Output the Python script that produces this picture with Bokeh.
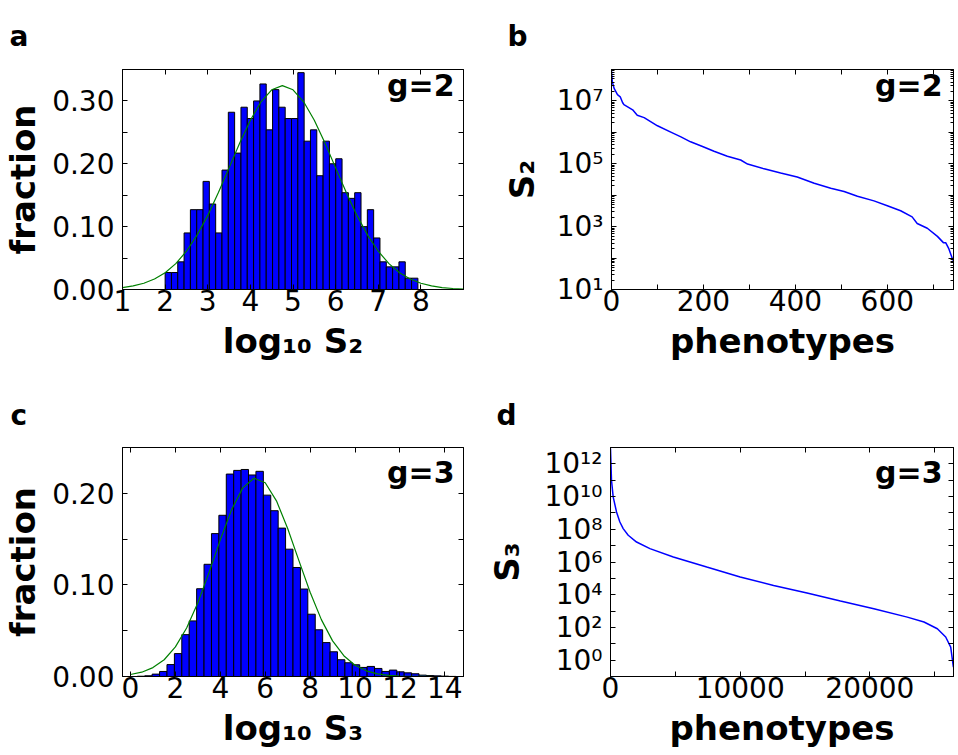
from bokeh.plotting import figure
from bokeh.models import (Range1d, FixedTicker, LinearAxis, LogAxis, Label,
                          CustomJSTickFormatter, NumeralTickFormatter, BasicTickFormatter)
from bokeh.layouts import column, row
from bokeh.embed import file_html
from bokeh.resources import INLINE
import numpy as np

FONT = "DejaVu Sans"

# ---------------- data: panel a (g=2 histogram) ----------------
hist2_range = (2.0, 7.93)
hist2_frac = [0.027, 0.027, 0.044, 0.090, 0.127, 0.127, 0.172, 0.136, 0.090, 0.190,
              0.282, 0.217, 0.290, 0.272, 0.300, 0.327, 0.254, 0.318, 0.290, 0.272,
              0.272, 0.345, 0.236, 0.254, 0.181, 0.236, 0.200, 0.208, 0.154, 0.145,
              0.154, 0.100, 0.127, 0.082, 0.044, 0.036, 0.036, 0.044, 0.018, 0.018]
fit2_x = [1.0, 1.25, 1.5, 1.75, 2.0, 2.25, 2.5, 2.75, 3.0, 3.25, 3.5, 3.75, 4.0,
          4.25, 4.5, 4.75, 5.0, 5.25, 5.5, 5.75, 6.0, 6.25, 6.5, 6.75, 7.0, 7.25,
          7.5, 7.75, 8.0, 8.25, 8.5, 8.75, 9.0]
fit2_y = [0.0031, 0.0057, 0.0099, 0.0166, 0.0266, 0.0411, 0.0609, 0.0865, 0.1179,
          0.1542, 0.1935, 0.2330, 0.2693, 0.2986, 0.3177, 0.3243, 0.3177, 0.2986,
          0.2693, 0.2330, 0.1935, 0.1542, 0.1179, 0.0865, 0.0609, 0.0411, 0.0266,
          0.0166, 0.0099, 0.0057, 0.0031, 0.0016, 0.0008]

# ---------------- data: panel b (g=2 rank plot) ----------------
rank2 = [0, 2, 6, 13, 19, 24, 27, 46, 56, 71, 100, 129, 151, 172, 198, 223, 252,
         281, 296, 332, 368, 404, 441, 477, 506, 535, 571, 600, 629, 654, 665, 687,
         709, 722, 727, 734, 743]
size2 = [8.9e7, 3.9e7, 2.45e7, 1.58e7, 1.35e7, 8.9e6, 7.6e6, 5.2e6, 3.5e6, 2.95e6,
         1.62e6, 1.02e6, 7.2e5, 5.0e5, 3.55e5, 2.5e5, 1.74e5, 1.32e5, 9.8e4, 6.9e4,
         5.1e4, 3.8e4, 2.4e4, 1.66e4, 1.32e4, 9.3e3, 6.6e3, 4.6e3, 3.2e3, 2.05e3,
         1.26e3, 890, 490, 310, 310, 195, 83]

# ---------------- data: panel c (g=3 histogram) ----------------
hist3_range = (-0.356, 14.83)
hist3_frac = [0.0, 0.0, 0.0003, 0.0008, 0.0026, 0.0055, 0.013, 0.025, 0.0457, 0.0607,
              0.0958, 0.1225, 0.156, 0.176, 0.221, 0.225, 0.226, 0.220, 0.224, 0.198,
              0.181, 0.162, 0.139, 0.119, 0.0955, 0.068, 0.051, 0.037, 0.027, 0.0183,
              0.015, 0.0128, 0.0099, 0.011, 0.0088, 0.0055, 0.007, 0.0051, 0.004, 0.003,
              0.0015, 0.001, 0.0007, 0.0004, 0.0001, 0.0]
fit3_x = [0.0, 0.5, 1.0, 1.5, 2.0, 2.5, 3.0, 3.5, 4.0, 4.5, 5.0, 5.5, 6.0, 6.5, 7.0,
          7.5, 8.0, 8.5, 9.0, 9.5, 10.0, 10.5, 11.0, 11.5, 12.0, 12.5, 13.0, 13.5,
          14.0, 14.5]
fit3_y = [0.0022, 0.0047, 0.0097, 0.0183, 0.0323, 0.0529, 0.0805, 0.1137, 0.1492,
          0.1819, 0.2059, 0.2165, 0.2115, 0.1918, 0.1616, 0.1265, 0.0920, 0.0621,
          0.0389, 0.0227, 0.0123, 0.0062, 0.0029, 0.0013, 0.0005, 0.0002, 0.0001,
          0.00002, 0.00001, 0.0]

# ---------------- data: panel d (g=3 rank plot) ----------------
rank3 = [0, 77, 206, 464, 722, 979, 1366, 2010, 3041, 4845, 7422, 10000, 12577,
         15154, 17731, 20308, 22885, 24174, 25205, 25849, 26235, 26441]
size3 = [8.7e12, 1.0e11, 9.5e9, 1.15e9, 2.8e8, 1.1e8, 4.3e7, 1.66e7, 6.6e6, 2.04e6,
         4.9e5, 1.2e5, 3.7e4, 1.26e4, 4.1e3, 1.38e3, 427, 214, 83, 26, 6.3, 0.37]

# ---------------- helpers ----------------


def blank():
    return CustomJSTickFormatter(code="return '';")


def log_formatter(parity):
    return CustomJSTickFormatter(args=dict(parity=parity), code="""
        const e = Math.round(Math.log10(tick));
        if (((e % 2) + 2) % 2 != parity) { return ''; }
        const sup = {'0':'\u2070','1':'\u00b9','2':'\u00b2','3':'\u00b3','4':'\u2074',
                     '5':'\u2075','6':'\u2076','7':'\u2077','8':'\u2078','9':'\u2079','-':'\u207b'};
        return '10' + String(e).split('').map(c => sup[c]).join('');
    """)


def style_axis(ax, ticker, formatter, minor_len=5, labels=True):
    ax.ticker = ticker
    if not labels:
        ax.formatter = blank()
    elif formatter is not None:
        ax.formatter = formatter
    ax.axis_line_color = "black"
    ax.major_tick_line_color = "black"
    ax.minor_tick_line_color = "black"
    ax.major_tick_in = 5
    ax.major_tick_out = 0
    ax.minor_tick_in = minor_len
    ax.minor_tick_out = 0
    ax.major_label_text_font = FONT
    ax.major_label_text_font_size = "28px"
    ax.major_label_text_color = "black"
    ax.axis_label_text_font = FONT
    ax.axis_label_text_font_size = "34px"
    ax.axis_label_text_font_style = "bold"
    ax.axis_label_text_color = "black"
    if not labels:
        ax.major_label_standoff = 0


def make_fig(w, h, left, right, top, bottom, xr, yr, letter, letter_dx, letter_gap,
             ylog=False):
    p = figure(width=w, height=h, x_range=xr, y_range=yr,
               y_axis_type="log" if ylog else "linear",
               output_backend="svg", toolbar_location=None, tools="",
               min_border_left=left, min_border_right=right,
               min_border_top=top, min_border_bottom=bottom,
               title=letter)
    p.title.align = "left"
    p.title.vertical_align = "bottom"
    p.title.offset = letter_dx
    p.title.text_font = FONT
    p.title.text_font_size = "28px"
    p.title.text_font_style = "bold"
    p.title.text_color = "black"
    p.title.text_line_height = 0.6
    p.title.standoff = letter_gap
    p.grid.visible = False
    p.outline_line_color = "black"
    p.background_fill_color = "white"
    p.border_fill_color = "white"
    return p


def add_axes(p, xt, xf, yt, yf, xlabel, ylabel, ylog=False, yminor=5,
             xstand=(0, 7), ystand=(8, 6)):
    style_axis(p.xaxis[0], xt, xf)
    style_axis(p.yaxis[0], yt, yf, minor_len=yminor)
    p.xaxis[0].axis_label = xlabel
    p.yaxis[0].axis_label = ylabel
    p.xaxis[0].major_label_standoff = xstand[0]
    p.xaxis[0].axis_label_standoff = xstand[1]
    p.yaxis[0].major_label_standoff = ystand[0]
    p.yaxis[0].axis_label_standoff = ystand[1]
    top = LinearAxis()
    style_axis(top, xt, None, labels=False)
    p.add_layout(top, "above")
    right = LogAxis() if ylog else LinearAxis()
    style_axis(right, yt, None, minor_len=yminor, labels=False)
    p.add_layout(right, "right")


def tag(p, text, x, y, align="right", size="30px"):
    p.add_layout(Label(x=x, y=y, x_units="screen", y_units="screen", text=text,
                       text_font=FONT, text_font_style="bold", text_font_size=size,
                       text_align=align, text_baseline="alphabetic",
                       text_color="black"))


# ---------------- panel a ----------------
pa = make_fig(479, 377, 120, 16, 60, 88, Range1d(1, 9), Range1d(0, 0.35), "a", -113, 34)
e2 = np.linspace(hist2_range[0], hist2_range[1], len(hist2_frac) + 1)
pa.quad(left=e2[:-1], right=e2[1:], bottom=0, top=hist2_frac,
        fill_color="#0000ff", line_color="black", line_width=1)
pa.line(fit2_x, fit2_y, line_color="#008000", line_width=1.2)
add_axes(pa, FixedTicker(ticks=[1, 2, 3, 4, 5, 6, 7, 8]), None,
         FixedTicker(ticks=[0, 0.1, 0.2, 0.3], minor_ticks=[0.05, 0.15, 0.25]),
         NumeralTickFormatter(format="0.00"), "log\u2081\u2080 S\u2082", "fraction")
tag(pa, "g=2", 332, 204)

# ---------------- panel b ----------------
pb = make_fig(479, 377, 132, 5, 60, 88, Range1d(0, 744), Range1d(10, 1e8), "b", -104, 34,
              ylog=True)
pb.line(rank2, size2, line_color="#0000ff", line_width=1.5)
b_minor = [m * 10 ** k for k in range(1, 8) for m in range(2, 10)]
add_axes(pb, FixedTicker(ticks=[0, 200, 400, 600], minor_ticks=[100, 300, 500, 700]), None,
         FixedTicker(ticks=[10 ** k for k in range(1, 9)], minor_ticks=b_minor),
         log_formatter(1), "phenotypes", "S\u2082", ylog=True, yminor=3,
         ystand=(8, 12))
tag(pb, "g=2", 331, 204)

# ---------------- panel c ----------------
pc = make_fig(479, 378, 120, 16, 70, 79, Range1d(hist3_range[0], hist3_range[1]),
              Range1d(0, 0.25), "c", -112, 32)
e3 = np.linspace(hist3_range[0], hist3_range[1], len(hist3_frac) + 1)
pc.quad(left=e3[:-1], right=e3[1:], bottom=0, top=hist3_frac,
        fill_color="#0000ff", line_color="black", line_width=1)
pc.line(fit3_x, fit3_y, line_color="#008000", line_width=1.2)
add_axes(pc, FixedTicker(ticks=[0, 2, 4, 6, 8, 10, 12, 14]), None,
         FixedTicker(ticks=[0, 0.1, 0.2], minor_ticks=[0.05, 0.15]),
         NumeralTickFormatter(format="0.00"), "log\u2081\u2080 S\u2083", "fraction")
tag(pc, "g=3", 332, 204)

# ---------------- panel d ----------------
pd_ = make_fig(479, 378, 131, 5, 70, 79, Range1d(0, 26450), Range1d(0.1, 1e13), "d", -114,
               32, ylog=True)
pd_.line(rank3, size3, line_color="#0000ff", line_width=1.5)
add_axes(pd_, FixedTicker(ticks=[0, 10000, 20000], minor_ticks=[5000, 15000, 25000]),
         BasicTickFormatter(use_scientific=False),
         FixedTicker(ticks=[10.0 ** k for k in range(-1, 14)], minor_ticks=[]),
         log_formatter(0), "phenotypes", "S\u2083", ylog=True, yminor=5,
         ystand=(8, 14))
tag(pd_, "g=3", 332, 204)

layout = column(row(pa, pb), row(pc, pd_))
open("out.html", "w").write(file_html(layout, INLINE, title="plot"))
